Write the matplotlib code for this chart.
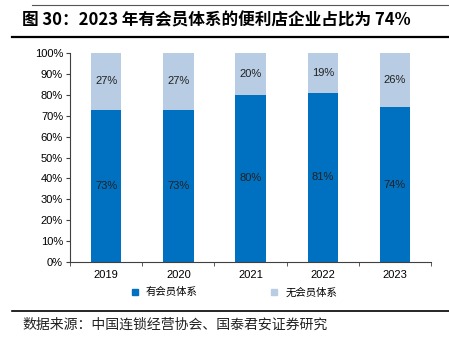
import matplotlib.pyplot as plt
import numpy as np
from matplotlib.lines import Line2D

plt.rcParams['font.family'] = ['Liberation Sans', 'Noto Sans CJK SC', 'DejaVu Sans']

years = ['2019', '2020', '2021', '2022', '2023']
with_member = [73, 73, 80, 81, 74]
without_member = [27, 27, 20, 19, 26]
series_names = ['有会员体系', '无会员体系']
colors = ['#0070C0', '#B8CCE4']

fig = plt.figure(figsize=(4.49, 3.43), dpi=100)
ax = fig.add_axes([0.156, 0.236, 0.804, 0.609])

x = np.arange(len(years))
width = 0.42
b1 = ax.bar(x, with_member, width, color=colors[0], label=series_names[0])
b2 = ax.bar(x, without_member, width, bottom=with_member, color=colors[1],
            label=series_names[1])

for rect, v in zip(b1, with_member):
    ax.text(rect.get_x() + rect.get_width() / 2, v / 2, f'{v}%',
            ha='center', va='center', fontsize=8, color='#222222')
for rect, base, v in zip(b2, with_member, without_member):
    ax.text(rect.get_x() + rect.get_width() / 2, base + v / 2, f'{v}%',
            ha='center', va='center', fontsize=8, color='#222222')

ax.set_xlim(-0.5, len(years) - 0.5)
ax.set_ylim(0, 100)
ax.set_yticks(np.arange(0, 101, 10))
ax.set_yticklabels([f'{t}%' for t in range(0, 101, 10)], fontsize=8)
ax.set_xticks(x)
ax.set_xticklabels(years, fontsize=8)
ax.set_xticks(np.arange(-0.5, len(years)), minor=True)
ax.tick_params(axis='x', which='major', length=0, pad=6)
ax.tick_params(axis='x', which='minor', length=3, color='#404040')
ax.tick_params(axis='y', length=3, color='#404040', pad=2)
for side in ['top', 'right']:
    ax.spines[side].set_visible(False)
for side in ['left', 'bottom']:
    ax.spines[side].set_color('#404040')
    ax.spines[side].set_linewidth(0.8)

handles = [Line2D([], [], marker='s', linestyle='none', markersize=4,
                  color=c) for c in colors]
fig.legend(handles, series_names, loc='center', bbox_to_anchor=(0.514, 0.148),
           ncol=2, frameon=False, handletextpad=0.1, columnspacing=6.3,
           prop={'family': 'Noto Sans CJK SC', 'size': 7.5})

# header and footer rules
fig.add_artist(Line2D([32 / 449, 1], [1 - 5 / 343] * 2, color='#555555', lw=0.8))
fig.add_artist(Line2D([12 / 449, 1], [1 - 37 / 343] * 2, color='black', lw=1.6))
fig.add_artist(Line2D([12 / 449, 1], [1 - 311 / 343] * 2, color='black', lw=1.2))

fig.text(22 / 449, 1 - 20 / 343, '图 30：2023 年有会员体系的便利店企业占比为 74%',
         fontsize=12, fontweight='bold', va='center', ha='left',
         family=['Noto Sans CJK SC', 'DejaVu Sans'])
fig.text(22 / 449, 1 - 325 / 343, '数据来源：中国连锁经营协会、国泰君安证券研究',
         fontsize=10, va='center', ha='left', color='#222222',
         family=['Noto Sans CJK SC', 'DejaVu Sans'])

fig.savefig('out.png', dpi=100)
